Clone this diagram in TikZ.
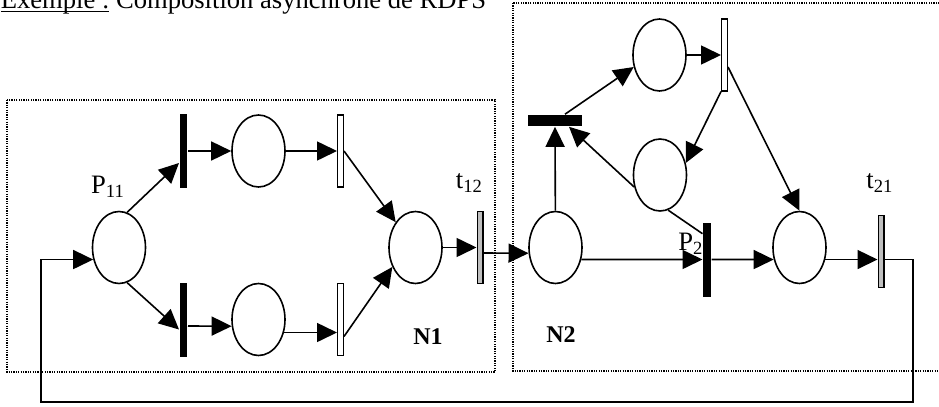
\documentclass[tikz,border=0pt]{standalone}
\usepackage{fontspec}
\setmainfont{Liberation Serif}
\usetikzlibrary{shapes.geometric,arrows.meta}

\begin{document}
\begin{tikzpicture}[x=0.5pt,y=-0.5pt,line width=0.8pt,
  >={Triangle[length=10pt,width=9.5pt]},
  placenode/.style={draw, ellipse, minimum width=26.5pt, minimum height=36pt, inner sep=0pt},
  blackbar/.style={fill=black, minimum width=3.7pt, minimum height=37pt, inner sep=0pt},
  hbar/.style={fill=black, minimum width=27pt, minimum height=5.5pt, inner sep=0pt},
  whitebar/.style={draw, fill=white, line width=0.6pt, minimum width=2.9pt, minimum height=36pt, inner sep=0pt},
  graybar/.style={whitebar, fill=gray!50},
  netbox/.style={line width=0.6pt, dash pattern=on 0.6pt off 0.6pt},
  lbl/.style={font=\fontsize{13.3}{16}\selectfont, inner sep=0pt}]
\useasboundingbox (0,0) rectangle (939,407);
\node[lbl, anchor=base west] (title) at (0,9) {\underline{\smash{Exemple :}} Composition asynchrone de RDPS};
\draw[netbox] (7,100) rectangle (495,372);
\draw[netbox] (513,3) rectangle (945,371);
\node[placenode] (p11) at (119,247.5) {};
\node[blackbar] (ta) at (183.5,151) {};
\node[placenode] (pa) at (258.5,151) {};
\node[whitebar] (tb) at (340.5,151) {};
\node[blackbar] (tc) at (183.5,319.5) {};
\node[placenode] (pb) at (258.5,319.5) {};
\node[whitebar] (td) at (340.5,319.5) {};
\node[placenode] (p12) at (415.5,247.5) {};
\node[graybar] (t12) at (480,247.5) {};
\node[placenode] (p20) at (555.5,247.5) {};
\node[hbar] (te) at (555,120.5) {};
\node[placenode] (pc) at (659.5,55) {};
\node[whitebar] (tf) at (724.5,55) {};
\node[placenode] (pd) at (660,175) {};
\node[blackbar] (tp2) at (707,259.5) {};
\node[placenode] (pe) at (799.5,247.5) {};
\node[graybar] (t21) at (881,251.5) {};
\coordinate (loopr) at (913,402);
\coordinate (loopl) at (41,402);
\draw[->] (p11.77) -- ([yshift=-6pt]ta.west);
\draw[->] (p11.-77) -- ([yshift=-5pt]tc.west);
\draw[->] (ta) -- (pa);
\draw[->] (pa) -- (tb);
\draw[->] ([yshift=-3.25pt]tc.east) -- (pb.194);
\draw[->] (pb.-27) -- (pb.-27 -| td.west);
\draw[->] (tb.east) -- (p12.128);
\draw[->] ([yshift=-8.5pt]td.east) -- (p12.220);
\draw[->] (p12) -- (t12);
\draw[->] ([yshift=-2.75pt]t12.east) -- (p20.192);
\draw[->] (p20) -- (te);
\draw[->] ([xshift=5pt]te.north) -- (pc.205);
\draw[->] (pc) -- (tf);
\draw[->] (tf.south west) -- (pd.25);
\draw[->] (pd.205) -- ([xshift=7pt]te.south);
\draw (pd.283) -- ([yshift=-6pt]tp2.north west);
\draw[->] (p20.-25) -- (tp2);
\draw[->] (tp2.east) -- (pe.205);
\draw[->] ([yshift=-6pt]tf.east) -- (pe.north);
\draw[->] (pe.-25) -- (pe.-25 -| t21.west);
\draw[->] (pe.-25 -| t21.east) -| (loopr) -- (loopl) |- (p11.205);
\node[lbl] (lp11) at (108,187) {P\textsubscript{11}};
\node[lbl] (lt12) at (469.5,183) {t\textsubscript{12}};
\node[lbl] (lt21) at (880,183) {t\textsubscript{21}};
\node[lbl] (lp2) at (691,244) {P\textsubscript{2}};
\node[lbl, font=\bfseries\fontsize{12}{14}\selectfont] (n1) at (428,337) {N1};
\node[lbl, font=\bfseries\fontsize{12}{14}\selectfont] (n2) at (561,335) {N2};
\end{tikzpicture}
\end{document}
